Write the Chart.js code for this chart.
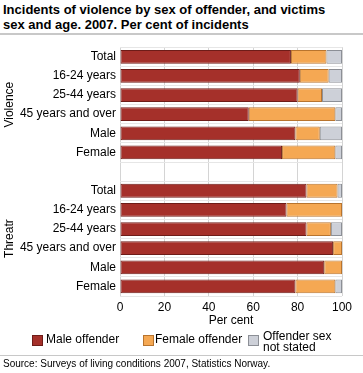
<!DOCTYPE html>
<html>
<head>
<meta charset="utf-8">
<script src="https://cdn.jsdelivr.net/npm/chart.js@4"></script>
<style>
  body { margin: 0; width: 363px; height: 373px; position: relative; font-family: "Liberation Sans", Arial, sans-serif; background: #fff; overflow: hidden; }
  #title { position: absolute; left: 3px; top: 2px; font-weight: bold; font-size: 13px; line-height: 15px; color: #000; }
  #rule1 { position: absolute; left: 0; top: 33px; width: 363px; height: 2px; background: #c8c8c8; }
  #chartBox { position: absolute; left: 0; top: 36px; }
  .leg { position: absolute; font-size: 12px; line-height: 11px; color: #000; }
  .sw { position: absolute; width: 9px; height: 9px; border: 1px solid; }
  #rule2 { position: absolute; left: 0; top: 355px; width: 363px; height: 1px; background: #c8c8c8; }
  #source { position: absolute; left: 3px; top: 358px; font-size: 10px; color: #000; }
</style>
</head>
<body>
<div id="title">Incidents of violence by sex of offender, and victims<br>sex and age. 2007. Per cent of incidents</div>
<div id="rule1"></div>
<div id="chartBox"><canvas id="grafico" width="363" height="294"></canvas></div>

<div class="sw" style="left:32px;top:335px;background:#a5302a;border-color:#6e1c18"></div>
<div class="leg" style="left:46px;top:334px">Male offender</div>
<div class="sw" style="left:143px;top:335px;background:#f5a853;border-color:#b8742e"></div>
<div class="leg" style="left:155px;top:334px">Female offender</div>
<div class="sw" style="left:248px;top:335px;background:#cdd0d8;border-color:#8c8f96"></div>
<div class="leg" style="left:263px;top:331px">Offender sex<br>not stated</div>
<div id="rule2"></div>
<div id="source">Source: Surveys of living conditions 2007, Statistics Norway.</div>

<script>
// Categorias (linha vazia separa os dois grupos)
const categorias = ['Total', '16-24 years', '25-44 years', '45 years and over', 'Male', 'Female', '',
                    'Total', '16-24 years', '25-44 years', '45 years and over', 'Male', 'Female'];
const grupos = ['Violence', 'Threatr'];

const maleOffender   = [77, 81, 80, 58, 79, 73, null, 84, 75, 84, 96, 92, 79];
const femaleOffender = [16, 13, 11, 39, 11, 24, null, 14, 25, 11,  4,  8, 18];
const notStated      = [ 7,  6,  9,  3, 10,  3, null,  2,  0,  5,  0,  0,  3];

const xTicks = [0, 20, 40, 60, 80, 100];

const fonte = { family: '"Liberation Sans", Arial, sans-serif', size: 12 };

// Rótulos de grupo rodados à esquerda
const grupoLabels = {
  id: 'grupoLabels',
  afterDraw(chart) {
    const ctx = chart.ctx;
    const y = chart.scales.y;
    const centros = [
      (y.getPixelForValue(0) + y.getPixelForValue(5)) / 2,
      (y.getPixelForValue(7) + y.getPixelForValue(12)) / 2
    ];
    ctx.save();
    ctx.fillStyle = '#000';
    ctx.font = '12px "Liberation Sans", Arial, sans-serif';
    ctx.textAlign = 'center';
    ctx.textBaseline = 'middle';
    grupos.forEach((g, i) => {
      ctx.save();
      ctx.translate(10, centros[i]);
      ctx.rotate(-Math.PI / 2);
      ctx.fillText(g, 0, 0);
      ctx.restore();
    });
    ctx.restore();
  }
};

const ctx = document.getElementById('grafico').getContext('2d');
const grafico = new Chart(ctx, {
  type: 'bar',
  data: {
    labels: categorias,
    datasets: [
      { label: 'Male offender', data: maleOffender, backgroundColor: '#a5302a', borderColor: '#6e1c18' },
      { label: 'Female offender', data: femaleOffender, backgroundColor: '#f5a853', borderColor: '#b8742e' },
      { label: 'Offender sex not stated', data: notStated, backgroundColor: '#cdd0d8', borderColor: '#8c8f96' }
    ]
  },
  options: {
    indexAxis: 'y',
    responsive: false,
    animation: false,
    layout: { padding: { top: 9, right: 21, left: 0, bottom: 0 } },
    datasets: {
      bar: { borderWidth: 1, borderSkipped: false, barPercentage: 0.72, categoryPercentage: 1 }
    },
    plugins: {
      legend: { display: false },
      tooltip: { enabled: false }
    },
    scales: {
      x: {
        stacked: true,
        min: 0,
        max: 100,
        afterBuildTicks(scale) { scale.ticks = xTicks.map(v => ({ value: v })); },
        afterFit(scale) { scale.height = 34; },
        grid: { color: '#d4d4d4', drawTicks: false },
        border: { display: false },
        ticks: { color: '#000', font: fonte, padding: 4 },
        title: { display: true, text: 'Per cent', color: '#000', font: fonte, padding: { top: 0, bottom: 2 } }
      },
      y: {
        stacked: true,
        afterFit(scale) { scale.width = 120; },
        grid: { color: '#e6e6e6', drawTicks: false, offset: true },
        border: { display: false },
        ticks: { color: '#000', font: fonte, padding: 4, autoSkip: false }
      }
    }
  },
  plugins: [grupoLabels]
});
</script>
</body>
</html>
